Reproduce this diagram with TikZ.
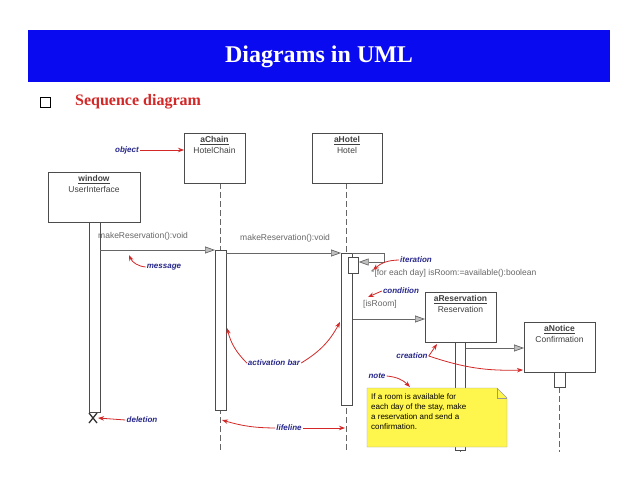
\documentclass[tikz,border=0pt]{standalone}
\usepackage{fontspec}
\setmainfont{Liberation Serif}
\newfontfamily\sans{Liberation Sans}
\usetikzlibrary{arrows.meta}
\definecolor{hdr}{RGB}{10,10,240}
\definecolor{ann}{RGB}{40,40,140}
\definecolor{red1}{RGB}{210,40,40}
\begin{document}
\begin{tikzpicture}[x=1pt,y=-1pt,
 obj/.style={draw=black!70,fill=white,line width=0.8pt},
 bar/.style={draw=black!70,fill=white,line width=0.7pt},
 life/.style={draw=black!60,dash pattern=on 6pt off 3pt,line width=0.8pt},
 msg/.style={draw=black!60,line width=0.7pt,-{Triangle[length=10pt,width=7pt,fill=gray!50]}},
 lbl/.style={font=\sans\fontsize{8.5}{9}\selectfont,text=black!60,inner sep=0pt,anchor=west},
 an/.style={font=\sans\itshape\bfseries\fontsize{8}{9}\selectfont,text=ann,inner sep=1pt},
 ra/.style={draw=red1,line width=0.8pt,-{Stealth[length=6pt]}},
 on/.style={font=\sans\fontsize{8.5}{11}\selectfont,text=black!75,align=center,anchor=north}]
\useasboundingbox (0,0) rectangle (638,493);
\fill[white] (0,0) rectangle (638,493);
\node[fill=hdr,minimum width=582pt,minimum height=52pt,anchor=north west,inner sep=0pt] (hdr) at (28,30) {};
\node[text=white,font=\bfseries\fontsize{24}{26}\selectfont] (ht) at (319,57) {Diagrams in UML};
\node[draw=black,line width=1pt,minimum size=10pt,inner sep=0pt] (bul) at (45,102) {};
\node[text=red1,font=\bfseries\fontsize{16}{18}\selectfont,anchor=west,inner sep=0pt] (sd) at (75,102) {Sequence diagram};
% lifelines
\draw[life] (220,183) -- (220,452);
\draw[life] (346,183) -- (346,452);
\draw[life] (460,342) -- (460,452);
\draw[life] (559,387) -- (559,452);
% objects
\node[obj,minimum width=92pt,minimum height=50pt,anchor=north west] (win) at (48,172) {};
\node[on] (wint) at (94,172) {\underline{\bfseries window}\\UserInterface};
\node[obj,minimum width=61pt,minimum height=50pt,anchor=north west] (ch) at (184,133) {};
\node[on] (cht) at (214.5,133) {\underline{\bfseries aChain}\\HotelChain};
\node[obj,minimum width=70pt,minimum height=50pt,anchor=north west] (ho) at (312,133) {};
\node[on] (hot) at (347,133) {\underline{\bfseries aHotel}\\Hotel};
\node[obj,minimum width=71pt,minimum height=50pt,anchor=north west] (re) at (425,292) {};
\node[on] (ret) at (460.5,292) {\underline{\bfseries aReservation}\\Reservation};
\node[obj,minimum width=71pt,minimum height=50pt,anchor=north west] (no) at (524,322) {};
\node[on] (not) at (559.5,322) {\underline{\bfseries aNotice}\\Confirmation};
% activation bars
\node[bar,minimum width=11pt,minimum height=190pt,anchor=north west,inner sep=0pt] (wa) at (89,222) {};
\node[bar,minimum width=11pt,minimum height=160pt,anchor=north west,inner sep=0pt] (ca) at (215,250) {};
\node[bar,minimum width=11pt,minimum height=152pt,anchor=north west,inner sep=0pt] (ha) at (341,253) {};
\node[bar,minimum width=10pt,minimum height=16pt,anchor=north west,inner sep=0pt] (hs) at (348,257) {};
\node[bar,minimum width=10pt,minimum height=108pt,anchor=north west,inner sep=0pt] (ra) at (455,342) {};
\node[bar,minimum width=11pt,minimum height=15pt,anchor=north west,inner sep=0pt] (na) at (554,372) {};
\draw[black!80,line width=1.3pt] (89,413) -- (97,423) (97,413) -- (89,423);
\coordinate (xd) at (98,418);
% messages
\coordinate (m1s) at (100,250);
\draw[msg] (m1s) -- (ca.north west);
\node[lbl] (l1) at (98,236) {makeReservation():void};
\coordinate (m2s) at (226,253);
\draw[msg] (m2s) -- (ha.north west);
\node[lbl] (l2) at (240,238) {makeReservation():void};
\coordinate (it1) at (352,253);
\coordinate (it2) at (384,253);
\coordinate (it3) at (384,262);
\draw[msg] (it1) -- (it2) -- (it3) -- (hs.east |- it3);
\node[lbl] (l3) at (371,273) {*[for each day] isRoom:=available():boolean};
\node[lbl] (l4) at (363,304) {[isRoom]};
\draw[msg] (ha.east |- 0,319) -- (re.west |- 0,319);
\draw[msg] (ra.east |- 0,348) -- (no.west |- 0,348);
% note
\draw[fill=yellow!70,draw=black!40] (367,388) -- (497,388) -- (507,398) -- (507,447) -- (367,447) -- cycle;
\draw[draw=black!40] (497,388) -- (497,398) -- (507,398);
\node[font=\sans\fontsize{8}{10}\selectfont,align=left,anchor=north west,inner sep=0pt] (nt) at (371,393) {If a room is available for\\each day of the stay, make\\a reservation and send a\\confirmation.};
% annotations
\node[an] (aobj) at (127,150) {object};
\draw[ra] (aobj.east) -- (ch.west |- aobj);
\node[an] (amsg) at (164,267) {message};
\draw[ra] (amsg.west) to[bend left=30] (129,255);
\node[an] (ait) at (416,260) {iteration};
\draw[ra] (ait.west) to[bend right=20] (373,270);
\node[an] (acon) at (401,291) {condition};
\draw[ra] (acon.west) -- (368,297);
\node[an] (aact) at (274,363) {activation bar};
\draw[ra] (aact.west) to[bend left=15] (227,328);
\draw[ra] (aact.east) to[bend right=15] (340,322);
\node[an] (acr) at (412,356) {creation};
\draw[ra] (acr.east) -- (437,344);
\draw[ra] (acr.east) to[bend right=10] (523,370);
\node[an] (anote) at (377,376) {note};
\draw[ra] (anote.east) to[bend left=20] (410,387);
\node[an] (adel) at (142,420) {deletion};
\draw[ra] (adel.west) -- (xd);
\node[an] (alife) at (289,428) {lifeline};
\draw[ra] (alife.west) to[bend left=8] (222,420);
\draw[ra] (alife.east) -- (345,428);
\end{tikzpicture}
\end{document}
